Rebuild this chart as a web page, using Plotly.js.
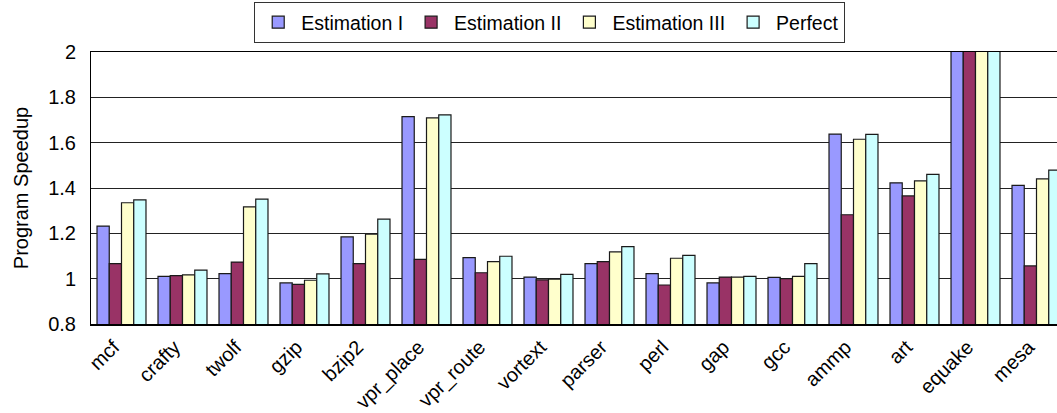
<!DOCTYPE html>
<html>
<head>
<meta charset="utf-8">
<script src="https://cdn.plot.ly/plotly-3.0.1.min.js"></script>
<style>
  html, body { margin: 0; padding: 0; background: #fff; overflow: hidden; }
  #chart { width: 1077px; height: 413px; }
</style>
</head>
<body>
<div id="chart"></div>
<script>
// Benchmarks on the x axis
const benchmarks = ['mcf', 'crafty', 'twolf', 'gzip', 'bzip2', 'vpr_place', 'vpr_route', 'vortext',
                    'parser', 'perl', 'gap', 'gcc', 'ammp', 'art', 'equake', 'mesa'];

// Program speedup per benchmark for each scheme
const estimation1 = [1.232, 1.010, 1.022, 0.981, 1.184, 1.715, 1.093, 1.007, 1.066, 1.022, 0.981, 1.006, 1.638, 1.423, 2.40, 1.412];
const estimation2 = [1.066, 1.013, 1.073, 0.975, 1.066, 1.085, 1.026, 0.995, 1.075, 0.972, 1.007, 1.000, 1.282, 1.365, 2.40, 1.056];
const estimation3 = [1.335, 1.017, 1.317, 0.993, 1.196, 1.709, 1.075, 0.998, 1.118, 1.090, 1.007, 1.010, 1.615, 1.431, 2.40, 1.440];
const perfect     = [1.348, 1.038, 1.351, 1.021, 1.263, 1.723, 1.099, 1.019, 1.141, 1.103, 1.010, 1.066, 1.637, 1.460, 2.40, 1.479];

const seriesNames = ['Estimation I', 'Estimation II', 'Estimation III', 'Perfect'];
const seriesColors = ['#9999FF', '#993366', '#FFFFCC', '#CCFFFF'];
const seriesValues = [estimation1, estimation2, estimation3, perfect];

const traces = seriesValues.map((vals, i) => ({
  type: 'bar',
  name: seriesNames[i],
  x: benchmarks,
  y: vals,
  marker: { color: seriesColors[i], line: { color: '#1a1a1a', width: 1.2 } },
  hoverinfo: 'x+y+name'
}));

const font = 'Liberation Sans, Arial, sans-serif';

const layout = {
  width: 1077,
  height: 413,
  margin: { l: 91, r: 10, t: 52, b: 89, autoexpand: false },
  paper_bgcolor: '#fff',
  plot_bgcolor: '#fff',
  barmode: 'group',
  bargap: 0.197,
  bargroupgap: 0,
  font: { family: font, color: '#000', size: 20 },
  showlegend: true,
  legend: {
    orientation: 'h',
    x: 0.47, xanchor: 'center',
    y: 1.033, yanchor: 'bottom',
    bordercolor: '#333', borderwidth: 1,
    font: { family: font, size: 19.5, color: '#000' },
    itemwidth: 36,
    tracegroupgap: 0,
    traceorder: 'normal'
  },
  xaxis: {
    type: 'category',
    tickangle: -45,
    tickfont: { family: font, size: 20 },
    ticklabelshift: -8,
    ticklabelstandoff: 2,
    showline: true, linecolor: '#000', linewidth: 1.5,
    mirror: true,
    ticks: '',
    showgrid: false,
    automargin: false,
    fixedrange: true
  },
  yaxis: {
    range: [0.8, 2],
    dtick: 0.2,
    tick0: 0.8,
    tickfont: { family: font, size: 20 },
    showline: true, linecolor: '#000', linewidth: 1,
    showgrid: true, gridcolor: '#222', gridwidth: 1,
    zeroline: false,
    ticks: 'outside', ticklen: 10, tickcolor: 'rgba(0,0,0,0)',
    title: { text: 'Program Speedup', font: { family: font, size: 20 }, standoff: 14 },
    automargin: false,
    fixedrange: true
  }
};

Plotly.newPlot('chart', traces, layout, { displayModeBar: false, staticPlot: true });
</script>
</body>
</html>
